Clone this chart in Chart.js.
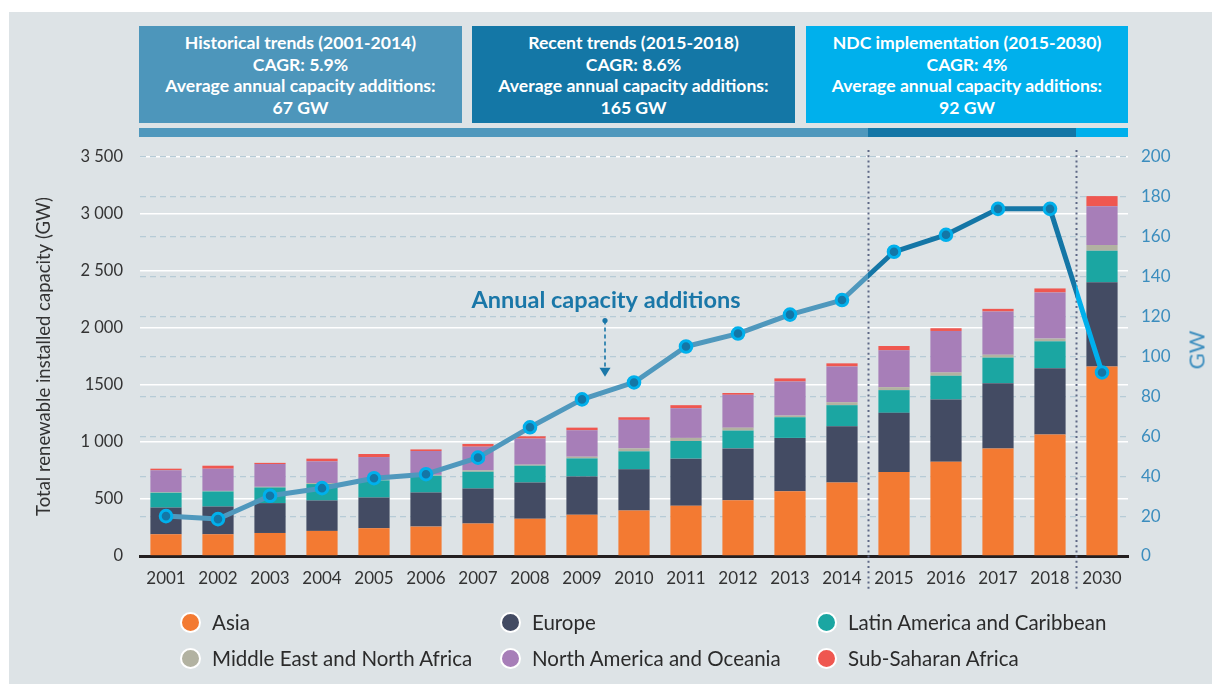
<!DOCTYPE html>
<html>
<head>
<meta charset="utf-8">
<script src="https://cdn.jsdelivr.net/npm/chart.js@4.4.1/dist/chart.umd.min.js"></script>
<style>
  html, body { margin:0; padding:0; background:#ffffff; width:1212px; height:684px; overflow:hidden; font-family:'Lato', sans-serif; }
  #panel { position:absolute; left:9px; top:12px; width:1203px; height:672px; background:#dde3e6; }
  .box { position:absolute; top:26px; height:97px; color:#ffffff; font-weight:bold; font-size:17.6px; line-height:21.7px; text-align:center; box-sizing:border-box; padding-top:6px; }
  #chartCanvas { position:absolute; left:0; top:0; }
  .lg { position:absolute; font-size:20.5px; color:#2b2b2b; white-space:nowrap; }
  .dot { position:absolute; width:17px; height:17px; border-radius:50%; border:2.5px solid #ffffff; }
  #gw { position:absolute; left:1196px; top:350px; transform:translate(-50%,-50%) rotate(-90deg); font-size:22px; color:#3b8dbe; }
</style>
</head>
<body>
<div id="panel"></div>
<div class="box" id="box1" style="left:139px;width:323px;background:#4d96bb;"></div>
<div class="box" id="box2" style="left:472px;width:323px;background:#1477a6;"></div>
<div class="box" id="box3" style="left:806px;width:322px;background:#00b0ec;"></div>
<canvas id="chartCanvas" width="1212" height="684"></canvas>
<div id="gw">GW</div>
<div id="legend"></div>
<script>
// ---------- DATA ----------
const years = ['2001','2002','2003','2004','2005','2006','2007','2008','2009','2010','2011','2012','2013','2014','2015','2016','2017','2018','2030'];
const asia        = [191,191,202,220,244,258,284,326,361,399,440,490,569,645,737,827,944,1065,1663];
const europe      = [234,243,262,267,269,299,308,319,337,361,414,454,467,493,519,546,572,583,739];
const latinAmerica= [130,132,137,144,150,147,147,147,158,158,155,156,181,185,199,208,224,235,276];
const middleEast  = [5,5,6,9,8,8,12,9,15,26,27,26,15,26,26,29,26,24,50];
const northAmerica= [192,195,200,190,197,209,208,229,232,250,260,288,299,314,323,364,379,405,340];
const subSaharan  = [14,26,10,24,27,14,24,20,23,23,27,16,27,27,38,24,23,35,89];
const annualAdditions = [20,18.5,30.2,34,39,41,49.3,64.5,78.5,87,105,111.5,121,128.3,152.5,161,174,174,92];

const seriesNames = ['Asia','Europe','Latin America and Caribbean','Middle East and North Africa','North America and Oceania','Sub-Saharan Africa'];
const seriesColors = ['#f37a32','#434b63','#1ba6a2','#b2b2a1','#a77eb8','#ef5750'];
const leftTickLabels = ['0','500','1 000','1500','2 000','2 500','3 000','3 500'];
const rightTickLabels = ['0','20','40','60','80','100','120','140','160','180','200'];

const boxTexts = [
  ['Historical trends (2001-2014)','CAGR: 5.9%','Average annual capacity additions:','67 GW'],
  ['Recent trends (2015-2018)','CAGR: 8.6%','Average annual capacity additions:','165 GW'],
  ['NDC implementation (2015-2030)','CAGR: 4%','Average annual capacity additions:','92 GW']
];
const annotationText = 'Annual capacity additions';

// ---------- HTML texts ----------
['box1','box2','box3'].forEach((id,i)=>{
  document.getElementById(id).innerHTML = boxTexts[i].map(t=>'<div>'+t+'</div>').join('');
});
const legendPos = [[191,623],[511,623],[827,623],[191,659],[511,659],[827,659]];
const lg = document.getElementById('legend');
seriesNames.forEach((n,i)=>{
  const [cx,cy] = legendPos[i];
  const d = document.createElement('div');
  d.className='dot'; d.style.left=(cx-11)+'px'; d.style.top=(cy-11)+'px'; d.style.background=seriesColors[i];
  lg.appendChild(d);
  const t = document.createElement('div');
  t.className='lg'; t.textContent=n; t.style.left=(cx+21)+'px'; t.style.top=(cy-13)+'px';
  lg.appendChild(t);
});

// ---------- colors for line ----------
const lineHist = '#4f98bd';
const lineRecent = '#1476a6';
const lineNdc = '#00b0ec';

function splitGradient(ctx, c1, c2) {
  const g = ctx.chart.ctx.createLinearGradient(ctx.p0.x, 0, ctx.p1.x, 0);
  g.addColorStop(0, c1); g.addColorStop(0.5, c1); g.addColorStop(0.5, c2); g.addColorStop(1, c2);
  return g;
}

const extras = {
  id: 'extras',
  beforeDatasetsDraw(chart) {
    const {ctx, scales:{x}} = chart;
    const s1 = (x.getPixelForValue(13) + x.getPixelForValue(14)) / 2;
    const s2 = (x.getPixelForValue(17) + x.getPixelForValue(18)) / 2;
    ctx.save();
    ctx.strokeStyle = '#5e6885';
    ctx.lineWidth = 2;
    ctx.setLineDash([2, 3.2]);
    [s1, s2].forEach(sx => {
      ctx.beginPath(); ctx.moveTo(Math.round(sx)+0.5, 150); ctx.lineTo(Math.round(sx)+0.5, 592); ctx.stroke();
    });
    ctx.restore();
  },
  afterDraw(chart) {
    const {ctx, chartArea, scales:{x, y2}} = chart;
    const s1 = (x.getPixelForValue(13) + x.getPixelForValue(14)) / 2;
    const s2 = (x.getPixelForValue(17) + x.getPixelForValue(18)) / 2;
    ctx.save();
    // strip under header boxes
    ctx.fillStyle = lineHist; ctx.fillRect(chartArea.left - 1, 128, s1 - chartArea.left + 1, 9);
    ctx.fillStyle = lineRecent; ctx.fillRect(s1, 128, s2 - s1, 9);
    ctx.fillStyle = lineNdc; ctx.fillRect(s2, 128, chartArea.right - s2, 9);
    // annotation
    const ax = (x.getPixelForValue(8) + x.getPixelForValue(9)) / 2 - 3;
    ctx.fillStyle = '#1a77a8';
    ctx.font = 'bold 23.5px Lato';
    ctx.textAlign = 'center'; ctx.textBaseline = 'middle';
    ctx.fillText(annotationText, ax + 1, y2.getPixelForValue(128));
    const yTop = y2.getPixelForValue(118), yTip = y2.getPixelForValue(89.8);
    ctx.beginPath(); ctx.arc(ax, yTop, 2.6, 0, Math.PI*2); ctx.fill();
    ctx.strokeStyle = '#1a77a8'; ctx.lineWidth = 1.6; ctx.setLineDash([4,3]);
    ctx.beginPath(); ctx.moveTo(ax, yTop); ctx.lineTo(ax, yTip - 8); ctx.stroke();
    ctx.setLineDash([]);
    ctx.beginPath(); ctx.moveTo(ax - 5.5, yTip - 9); ctx.lineTo(ax + 5.5, yTip - 9); ctx.lineTo(ax, yTip); ctx.closePath(); ctx.fill();
    ctx.restore();
  }
};

const barData = [asia, europe, latinAmerica, middleEast, northAmerica, subSaharan];
const datasets = barData.map((d,i)=>({
  type:'bar', label: seriesNames[i], data: d, backgroundColor: seriesColors[i],
  borderWidth: 0,
  yAxisID:'y', stack:'cap', order: 2,
  barPercentage: 0.6, categoryPercentage: 1.0
}));
datasets.push({
  type:'line', label:'Annual capacity additions', data: annualAdditions, yAxisID:'y2', order: 0,
  borderWidth: 5, borderCapStyle:'round', borderJoinStyle:'round', tension: 0,
  pointRadius: 5.8, pointBorderWidth: 3, pointBackgroundColor: '#1476a6', pointBorderColor: '#00b0ec',
  pointHoverRadius: 5.8,
  segment: {
    borderColor: ctx => {
      const i = ctx.p0DataIndex;
      if (i < 13) return lineHist;
      if (i === 13) return splitGradient(ctx, lineHist, lineRecent);
      if (i < 17) return lineRecent;
      return splitGradient(ctx, lineRecent, lineNdc);
    }
  }
});

Chart.defaults.font.family = 'Lato';
new Chart(document.getElementById('chartCanvas'), {
  data: { labels: years, datasets },
  plugins: [extras],
  options: {
    responsive: false, animation: false,
    layout: { padding: { left: 0, right: 0, top: 157, bottom: 0 } },
    plugins: { legend: { display:false }, tooltip: { enabled:false } },
    scales: {
      x: {
        stacked: true, offset: true,
        grid: { display:false, drawTicks:false },
        border: { display:true, color:'#231f20', width:3 },
        ticks: { color:'#333333', font:{ size:17 }, padding: 12 },
        afterFit(s){ s.height = 128; }
      },
      y: {
        stacked: true, position:'left', min:0, max:3500,
        ticks: { stepSize:500, color:'#333333', font:{ size:16.5 }, padding:17,
                 callback:(v, i) => leftTickLabels[i] },
        grid: { color:'#ffffff', lineWidth:1.6, drawTicks:false },
        border: { display:false },
        title: { display:true, text:'Total renewable installed capacity (GW)', color:'#333333', font:{ size:18.5 }, padding:{ top:33, bottom:0 } },
        afterFit(s){ s.width = 140; }
      },
      y2: {
        position:'right', min:0, max:200,
        ticks: { stepSize:20, color:'#3b8dbe', font:{ size:17 }, padding:13,
                 callback:(v, i) => rightTickLabels[i] },
        grid: { color:'#b6cbd6', lineWidth:1.2, drawTicks:false },
        border: { display:false, dash:[6,4] },
        afterFit(s){ s.width = 84; }
      }
    }
  }
});
</script>
</body>
</html>
